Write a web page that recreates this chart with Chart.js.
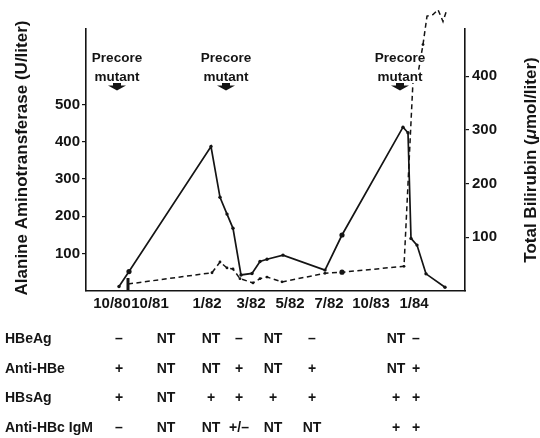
<!DOCTYPE html>
<html>
<head>
<meta charset="utf-8">
<script src="https://cdn.jsdelivr.net/npm/chart.js@4.4.0/dist/chart.umd.min.js"></script>
<style>
  body { margin: 0; background: #fff; }
  canvas { display: block; }
</style>
</head>
<body>
<canvas id="grafico" width="540" height="438"></canvas>
<script>
// posicao ao longo do eixo do tempo (escala nao linear do original) e valores
const altPos = [33, 43, 125, 134, 141, 147, 155, 166, 174, 181, 197, 239, 256, 317, 322, 325, 331, 340, 359];
const altVal = [12, 52, 387, 251, 206, 168, 43, 47, 79, 85, 96, 56, 150, 439, 424, 141, 123, 46, 10];

const biliPos = [42, 126, 134, 141, 147, 154, 167, 174, 181, 196, 239, 256, 318, 327, 331, 337, 341, 347, 352, 357, 361];
const biliVal = [13, 34, 54, 43, 41, 23, 15, 23, 26, 17, 33, 35, 46, 391, 394, 459, 512, 515, 524, 502, 525];

// rotulos do eixo x
const xTickPos = [26, 64, 121, 165, 204, 243, 285, 328];
const xTickLabels = ['10/80', '10/81', '1/82', '3/82', '5/82', '7/82', '10/83', '1/84'];

const altTicks = [100, 200, 300, 400, 500];
const biliTicks = [100, 200, 300, 400];

// setas "Precore mutant"
const mutantPos = [31, 140, 314];

// tabela de marcadores
const rowLabels = ['HBeAg', 'Anti-HBe', 'HBsAg', 'Anti-HBc IgM'];
const colPos = [33, 80, 125, 153, 187, 226, 310, 330];
const hbeag = ['–', 'NT', 'NT', '–', 'NT', '–', 'NT', '–'];
const antiHbe = ['+', 'NT', 'NT', '+', 'NT', '+', 'NT', '+'];
const hbsag = ['+', 'NT', '+', '+', '+', '+', '+', '+'];
const antiHbcIgm = ['–', 'NT', 'NT', '+/–', 'NT', 'NT', '+', '+'];
const tableRows = [hbeag, antiHbe, hbsag, antiHbcIgm];

const INK = '#141414';
const FONT = '"Liberation Sans", Arial, sans-serif';

function pts(xs, ys) {
    return xs.map((v, i) => ({ x: v, y: ys[i] }));
}

const textos = {
    id: 'textos',
    afterDraw(chart) {
        const ctx = chart.ctx;
        const sx = chart.scales.x;
        ctx.save();
        ctx.fillStyle = INK;

        // titulos dos eixos
        ctx.font = 'bold 17px ' + FONT;
        ctx.textBaseline = 'middle';
        ctx.textAlign = 'center';
        ctx.save();
        ctx.translate(22, 158);
        ctx.rotate(-Math.PI / 2);
        ctx.fillText('Alanine Aminotransferase (U/liter)', 0, 0);
        ctx.restore();

        const partes = [
            ['Total Bilirubin (', 'bold 17px ' + FONT],
            ['\u03bc', 'italic bold 17px ' + FONT],
            ['mol/liter)', 'bold 17px ' + FONT]
        ];
        let total = 0;
        partes.forEach(p => { ctx.font = p[1]; total += ctx.measureText(p[0]).width; });
        ctx.save();
        ctx.translate(531, 160);
        ctx.rotate(-Math.PI / 2);
        ctx.textAlign = 'left';
        let px = -total / 2;
        partes.forEach(p => {
            ctx.font = p[1];
            ctx.fillText(p[0], px, 0);
            px += ctx.measureText(p[0]).width;
        });
        ctx.restore();

        // Precore mutant + seta
        ctx.font = 'bold 13.5px ' + FONT;
        ctx.textAlign = 'center';
        ctx.textBaseline = 'alphabetic';
        ctx.strokeStyle = '#fff';
        ctx.lineWidth = 4;
        ctx.lineJoin = 'round';
        mutantPos.forEach(m => {
            const cx = sx.getPixelForValue(m);
            ctx.strokeText('Precore', cx, 62);
            ctx.strokeText('mutant', cx, 81);
            ctx.fillText('Precore', cx, 62);
            ctx.fillText('mutant', cx, 81);
            const cy = 86.5;
            ctx.beginPath();
            ctx.moveTo(cx - 4, cy - 3.5);
            ctx.lineTo(cx + 4, cy - 3.5);
            ctx.lineTo(cx + 4, cy - 1);
            ctx.lineTo(cx + 9, cy - 1);
            ctx.lineTo(cx, cy + 4);
            ctx.lineTo(cx - 9, cy - 1);
            ctx.lineTo(cx - 4, cy - 1);
            ctx.closePath();
            ctx.fill();
        });

        // tabela
        const rowY = [339, 369, 398, 428];
        ctx.font = 'bold 14px ' + FONT;
        ctx.textBaseline = 'middle';
        rowLabels.forEach((lab, r) => {
            ctx.textAlign = 'left';
            ctx.fillText(lab, 5, rowY[r]);
            ctx.textAlign = 'center';
            tableRows[r].forEach((v, c) => {
                ctx.fillText(v, sx.getPixelForValue(colPos[c]), rowY[r]);
            });
        });

        ctx.restore();
    }
};

const ctx = document.getElementById('grafico');

new Chart(ctx, {
    type: 'line',
    data: {
        datasets: [{
            label: 'ALT',
            data: pts(altPos, altVal),
            yAxisID: 'y',
            borderColor: INK,
            backgroundColor: INK,
            borderWidth: 1.7,
            pointRadius: altPos.map((v, i) => (i === 1 || i === 12) ? 2.6 : 1.7),
            pointBorderWidth: 0,
            pointBackgroundColor: INK,
            tension: 0,
            fill: false
        }, {
            label: 'Bilirubina',
            data: pts(biliPos, biliVal),
            yAxisID: 'y2',
            borderColor: INK,
            backgroundColor: INK,
            borderWidth: 1.5,
            borderDash: [5, 3.5],
            pointStyle: biliPos.map((v, i) => i === 0 ? 'line' : 'circle'),
            rotation: biliPos.map((v, i) => i === 0 ? 90 : 0),
            pointRadius: biliPos.map((v, i) => i === 0 ? 6 : (i === 11 ? 2.6 : 1.4)),
            pointBorderWidth: biliPos.map((v, i) => i === 0 ? 3 : 0),
            pointBorderColor: INK,
            pointBackgroundColor: INK,
            tension: 0,
            fill: false,
            clip: false
        }]
    },
    options: {
        responsive: false,
        animation: false,
        devicePixelRatio: 1,
        layout: { padding: { top: 29, left: 0, right: 0, bottom: 0 } },
        plugins: { legend: { display: false }, tooltip: { enabled: false } },
        scales: {
            x: {
                type: 'linear',
                min: 0,
                max: 379,
                afterFit: s => { s.height = 147; },
                afterBuildTicks: s => { s.ticks = xTickPos.map(v => ({ value: v })); },
                grid: { drawOnChartArea: false, drawTicks: false },
                border: { display: true, color: INK, width: 1.6 },
                ticks: {
                    color: INK,
                    padding: 4,
                    maxRotation: 0,
                    autoSkip: false,
                    font: { family: FONT, size: 15, weight: 'bold' },
                    callback: (v, i) => xTickLabels[i]
                }
            },
            y: {
                position: 'left',
                min: 0,
                max: 702,
                afterFit: s => { s.width = 86; },
                afterBuildTicks: s => { s.ticks = altTicks.map(v => ({ value: v })); },
                grid: { drawOnChartArea: false, drawTicks: true, tickLength: 4, color: INK, lineWidth: 1.2 },
                border: { display: true, color: INK, width: 1.6 },
                ticks: {
                    color: INK,
                    padding: 2,
                    font: { family: FONT, size: 15, weight: 'bold' }
                }
            },
            y2: {
                position: 'right',
                min: 0,
                max: 488,
                afterFit: s => { s.width = 75; },
                afterBuildTicks: s => { s.ticks = biliTicks.map(v => ({ value: v })); },
                grid: { drawOnChartArea: false, drawTicks: true, tickLength: 4, color: INK, lineWidth: 1.2 },
                border: { display: true, color: INK, width: 1.6 },
                ticks: {
                    color: INK,
                    padding: 3,
                    font: { family: FONT, size: 15, weight: 'bold' }
                }
            }
        }
    },
    plugins: [textos]
});
</script>
</body>
</html>
